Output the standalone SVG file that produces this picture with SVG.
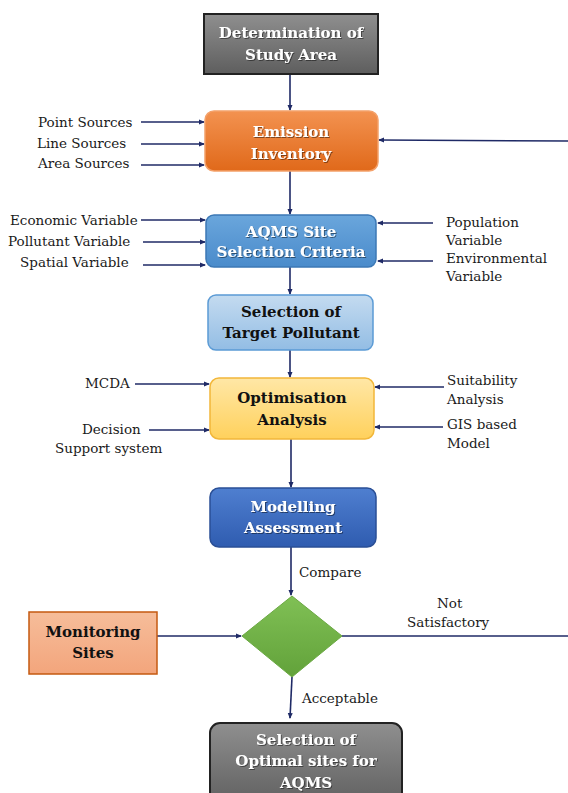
<svg xmlns="http://www.w3.org/2000/svg" width="568" height="793" viewBox="0 0 568 793">
<style>
.lbl{font-family:"DejaVu Serif","Liberation Serif",serif;font-size:13.5px;fill:#1a1a1a}
.bt{font-family:"DejaVu Serif","Liberation Serif",serif;font-size:15px;font-weight:bold;text-anchor:middle}
.w{fill:#ffffff;filter:url(#sh)}
.d{fill:#111111}
.c{stroke:#1f2a66;stroke-width:1.6;fill:none}
</style>
<defs>
<filter id="sh" x="-10%" y="-30%" width="120%" height="160%">
<feDropShadow dx="1" dy="1" stdDeviation="0.6" flood-color="#000" flood-opacity="0.45"/>
</filter>
<marker id="ah" markerWidth="6" markerHeight="6" refX="5" refY="3" orient="auto" markerUnits="userSpaceOnUse">
<path d="M0,0.5 L6,3 L0,5.5 Z" fill="#1f2a66"/>
</marker>
<linearGradient id="gGray" x1="0" y1="0" x2="0" y2="1"><stop offset="0" stop-color="#8f8f8f"/><stop offset="1" stop-color="#5e5e5e"/></linearGradient>
<linearGradient id="gOr" x1="0" y1="0" x2="0" y2="1"><stop offset="0" stop-color="#f39250"/><stop offset="1" stop-color="#e0691a"/></linearGradient>
<linearGradient id="gBl" x1="0" y1="0" x2="0" y2="1"><stop offset="0" stop-color="#6aa6dc"/><stop offset="1" stop-color="#4a8bcb"/></linearGradient>
<linearGradient id="gLb" x1="0" y1="0" x2="0" y2="1"><stop offset="0" stop-color="#c4dbf0"/><stop offset="1" stop-color="#93bde4"/></linearGradient>
<linearGradient id="gYe" x1="0" y1="0" x2="0" y2="1"><stop offset="0" stop-color="#ffe7a6"/><stop offset="1" stop-color="#ffd15c"/></linearGradient>
<linearGradient id="gDb" x1="0" y1="0" x2="0" y2="1"><stop offset="0" stop-color="#4f7fd0"/><stop offset="1" stop-color="#2f5cb0"/></linearGradient>
<linearGradient id="gGr" x1="0" y1="0" x2="0" y2="1"><stop offset="0" stop-color="#80c055"/><stop offset="1" stop-color="#62a23a"/></linearGradient>
<linearGradient id="gSal" x1="0" y1="0" x2="0" y2="1"><stop offset="0" stop-color="#f6bd9a"/><stop offset="1" stop-color="#f3a57c"/></linearGradient>
</defs>

<g id="connectors">
<path class="c" d="M290,74 L290,110" marker-end="url(#ah)"/>
<path class="c" d="M141,122 L204,122" marker-end="url(#ah)"/>
<path class="c" d="M141,144 L204,144" marker-end="url(#ah)"/>
<path class="c" d="M141,165 L204,165" marker-end="url(#ah)"/>
<path class="c" d="M568,141 L379,140" marker-end="url(#ah)"/>
<path class="c" d="M290,171 L290,214" marker-end="url(#ah)"/>
<path class="c" d="M141,220 L205,220" marker-end="url(#ah)"/>
<path class="c" d="M143,242 L205,242" marker-end="url(#ah)"/>
<path class="c" d="M143,265 L205,265" marker-end="url(#ah)"/>
<path class="c" d="M433,223 L378,223" marker-end="url(#ah)"/>
<path class="c" d="M433,261 L378,261" marker-end="url(#ah)"/>
<path class="c" d="M290,267 L290,294" marker-end="url(#ah)"/>
<path class="c" d="M290,350 L290,377" marker-end="url(#ah)"/>
<path class="c" d="M135,384 L209,384" marker-end="url(#ah)"/>
<path class="c" d="M149,430 L209,430" marker-end="url(#ah)"/>
<path class="c" d="M444,387 L375,387" marker-end="url(#ah)"/>
<path class="c" d="M443,427 L375,427" marker-end="url(#ah)"/>
<path class="c" d="M291,439 L291,487" marker-end="url(#ah)"/>
<path class="c" d="M291,547 L291,595" marker-end="url(#ah)"/>
<path class="c" d="M157,636 L241,636" marker-end="url(#ah)"/>
<path class="c" d="M342,636 L568,636"/>
<path class="c" d="M292,677 L290,718" marker-end="url(#ah)"/>
<text class="lbl" x="299" y="577">Compare</text>
<text class="lbl" x="437" y="608">Not</text>
<text class="lbl" x="407" y="627">Satisfactory</text>
<text class="lbl" x="302" y="703">Acceptable</text>
</g>

<g id="labels">
<text class="lbl" x="38" y="127">Point Sources</text>
<text class="lbl" x="37" y="148">Line Sources</text>
<text class="lbl" x="38" y="168">Area Sources</text>
<text class="lbl" x="10" y="225">Economic Variable</text>
<text class="lbl" x="8" y="246">Pollutant Variable</text>
<text class="lbl" x="20" y="267">Spatial Variable</text>
<text class="lbl" x="446" y="227">Population</text>
<text class="lbl" x="446" y="245">Variable</text>
<text class="lbl" x="446" y="263">Environmental</text>
<text class="lbl" x="446" y="281">Variable</text>
<text class="lbl" x="85" y="388">MCDA</text>
<text class="lbl" x="82" y="434">Decision</text>
<text class="lbl" x="55" y="453">Support system</text>
<text class="lbl" x="447" y="385">Suitability</text>
<text class="lbl" x="447" y="404">Analysis</text>
<text class="lbl" x="447" y="429">GIS based</text>
<text class="lbl" x="447" y="448">Model</text>
</g>

<g id="n-study">
<rect x="204" y="14" width="174" height="60" fill="url(#gGray)" stroke="#222" stroke-width="2"/>
<text class="bt w" x="291" y="38">Determination of</text>
<text class="bt w" x="291" y="60">Study Area</text>
</g>

<g id="n-emission">
<rect x="205" y="111" width="173" height="60" rx="9" fill="url(#gOr)" stroke="#f4a16a" stroke-width="1.5"/>
<text class="bt w" x="291" y="137">Emission</text>
<text class="bt w" x="291" y="159">Inventory</text>
</g>

<g id="n-aqms">
<rect x="206" y="215" width="170" height="52" rx="8" fill="url(#gBl)" stroke="#3c78b5" stroke-width="1.5"/>
<text class="bt w" x="291" y="237">AQMS Site</text>
<text class="bt w" x="291" y="257">Selection Criteria</text>
</g>

<g id="n-target">
<rect x="208" y="295" width="165" height="55" rx="8" fill="url(#gLb)" stroke="#5b9bd5" stroke-width="1.5"/>
<text class="bt d" x="291" y="317">Selection of</text>
<text class="bt d" x="291" y="338">Target Pollutant</text>
</g>

<g id="n-optim">
<rect x="210" y="378" width="164" height="61" rx="9" fill="url(#gYe)" stroke="#f2b73a" stroke-width="1.5"/>
<text class="bt d" x="292" y="403">Optimisation</text>
<text class="bt d" x="292" y="425">Analysis</text>
</g>

<g id="n-model">
<rect x="210" y="488" width="166" height="59" rx="9" fill="url(#gDb)" stroke="#2a4f96" stroke-width="1.5"/>
<text class="bt w" x="293" y="512">Modelling</text>
<text class="bt w" x="293" y="533">Assessment</text>
</g>

<g id="n-compare">
<polygon points="292,596 342,636 292,677 242,636" fill="url(#gGr)" stroke="#6aa842" stroke-width="1"/>
</g>

<g id="n-monitor">
<rect x="29" y="612" width="128" height="62" fill="url(#gSal)" stroke="#c55a11" stroke-width="1.5"/>
<text class="bt d" x="93" y="637">Monitoring</text>
<text class="bt d" x="93" y="658">Sites</text>
</g>

<g id="n-optimal">
<rect x="210" y="723" width="192" height="85" rx="10" fill="url(#gGray)" stroke="#222" stroke-width="2"/>
<text class="bt w" x="306" y="745">Selection of</text>
<text class="bt w" x="306" y="766">Optimal sites for</text>
<text class="bt w" x="306" y="788">AQMS</text>
</g>
</svg>
